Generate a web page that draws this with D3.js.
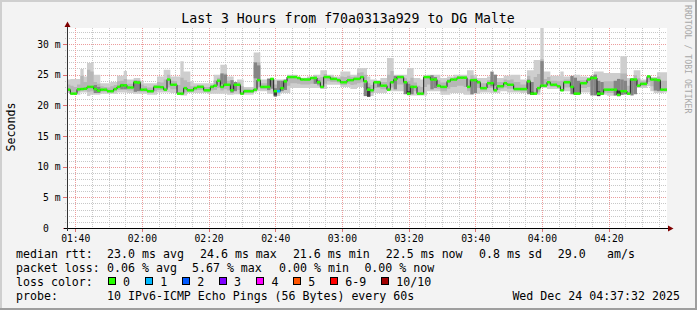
<!DOCTYPE html>
<html><head><meta charset="utf-8">
<script src="https://cdn.jsdelivr.net/npm/d3@7"></script>
<style>
html,body{margin:0;padding:0;background:#f3f3f3;}
svg{display:block;}
text{font-family:"DejaVu Sans Mono",monospace;fill:#000;white-space:pre;}
</style></head><body>
<svg id="c" width="697" height="310"></svg>
<script>
// ---------------- DATA ----------------
const title = "Last 3 Hours from f70a0313a929 to DG Malte";
const startTime = new Date(2025, 11, 24, 1, 37, 32);
const endTime = new Date(2025, 11, 24, 4, 37, 32);
const yMax = 32.6; // ms
const yTicks = [0, 5, 10, 15, 20, 25, 30];
const yTickLabels = ["0  ", "5 m", "10 m", "15 m", "20 m", "25 m", "30 m"];
const xTickLabels = ["01:40","02:00","02:20","02:40","03:00","03:20","03:40","04:00","04:20"];

// median rtt per minute (ms)
const median = [
22.55,21.9,21.9,22.6,22.65,22.7,23.0,23.0,22.65,22.4,
22.55,22.55,22.3,22.3,22.65,23.0,23.25,23.25,22.9,22.9,
23.75,23.7,22.55,22.55,22.3,22.3,23.0,23.0,22.95,22.55,
24.2,23.35,23.35,21.9,21.9,22.8,22.45,22.45,22.8,23.0,
23.0,22.45,22.45,23.0,23.2,24.0,23.0,23.35,23.35,22.45,
23.35,23.35,21.9,22.3,22.3,22.3,22.55,24.1,23.0,23.0,
23.0,24.3,22.3,22.3,22.8,23.9,24.6,24.6,24.6,24.45,
24.2,24.2,24.2,24.45,24.45,23.75,23.0,24.6,24.6,24.3,
24.3,24.1,23.75,23.75,24.1,24.1,24.3,24.3,24.6,23.9,
22.55,22.45,23.75,23.75,23.2,23.2,22.55,23.75,24.2,24.6,
24.6,23.75,21.9,23.0,23.0,21.9,21.9,24.6,24.6,24.2,
24.2,23.2,23.0,23.0,23.9,24.2,24.2,24.5,24.5,24.5,
23.0,24.1,24.1,23.75,22.8,22.8,23.6,23.6,22.45,23.1,
23.1,23.6,23.35,23.35,22.65,22.65,22.65,22.65,23.9,21.9,
21.9,22.8,23.2,23.2,23.75,23.35,23.35,23.1,22.45,23.75,
23.75,23.0,21.9,21.9,23.6,23.6,24.2,24.45,24.45,21.9,
21.9,22.55,22.55,22.55,22.55,21.7,22.3,22.3,21.9,24.2,
24.2,23.2,23.5,23.5,24.7,24.2,24.2,24.1,22.55,22.55];

// outer smoke (fastest / slowest ping)
const smokeHi = [
24.2,24.3,24.3,24.3,25.9,24.7,26.9,26.9,25.0,25.0,
23.6,23.6,23.6,23.8,23.8,24.8,24.8,25.6,24.2,24.2,
24.45,24.45,24.0,23.6,23.6,23.6,23.6,24.7,24.7,25.8,
25.8,24.7,24.7,24.7,27.2,25.5,25.5,23.9,23.6,23.6,
23.6,23.6,23.6,23.6,25.0,25.0,26.6,26.6,24.7,24.7,
23.6,24.2,24.2,23.0,23.0,23.0,28.6,28.6,24.2,24.2,
24.45,24.45,24.2,24.2,24.2,24.2,25.0,25.0,25.0,24.7,
24.5,24.5,24.7,24.7,25.0,25.0,25.7,25.7,25.0,25.0,
24.7,24.7,25.5,25.5,25.5,25.0,25.0,26.1,26.1,26.1,
24.7,24.2,24.2,24.0,24.45,24.45,27.7,27.7,25.0,25.0,
25.0,25.0,26.1,26.1,24.45,24.45,24.2,24.9,25.0,25.0,
25.0,25.0,24.45,24.45,24.7,24.7,25.0,25.0,25.0,25.0,
25.7,25.7,25.0,24.45,24.45,24.45,24.7,24.7,24.7,24.45,
24.45,24.8,24.8,25.0,25.0,25.0,24.2,24.2,25.7,25.7,
27.4,27.4,32.6,25.5,25.5,24.8,24.8,24.8,25.5,24.7,
24.7,24.7,25.0,25.0,24.7,24.7,24.6,24.7,25.5,25.5,
25.5,25.26,25.26,25.26,25.26,25.26,28.0,28.0,24.45,24.45,
25.7,25.7,24.2,24.2,24.9,24.6,24.6,25.4,25.4,25.4];
const smokeLo = [
22.0,21.7,21.7,21.7,22.1,22.1,21.5,21.7,21.7,21.7,
21.9,21.9,21.9,21.9,21.9,22.1,22.1,22.1,22.0,22.0,
21.9,21.9,21.9,21.9,21.7,21.7,21.7,22.1,22.1,22.1,
22.1,22.0,22.0,21.7,21.6,21.6,22.0,22.0,22.0,22.0,
22.0,22.0,21.9,21.9,21.9,21.9,21.9,21.9,21.7,21.7,
21.8,21.8,21.7,21.7,21.7,21.7,22.1,22.27,22.27,22.27,
21.9,21.9,21.5,21.5,22.0,22.0,22.0,22.8,22.8,22.8,
22.8,22.8,22.8,22.8,22.8,22.8,22.65,22.65,23.36,23.36,
23.36,23.36,23.0,23.0,23.0,22.65,22.65,23.0,23.0,23.0,
21.5,21.5,22.0,22.0,22.0,22.0,22.27,22.27,22.27,22.27,
22.27,22.27,21.6,21.6,21.6,21.6,21.6,21.6,22.27,22.27,
22.27,22.27,21.7,21.7,21.7,22.0,22.0,22.0,22.0,21.7,
21.7,21.7,21.9,21.9,22.1,22.1,22.1,22.0,22.0,22.0,
22.27,22.27,22.1,22.1,22.1,22.1,22.0,22.0,22.1,21.7,
21.7,21.7,22.8,22.8,22.65,22.65,22.65,22.65,22.27,22.27,
22.27,22.27,21.7,21.7,22.1,22.1,22.1,22.1,21.7,21.7,
21.7,21.7,21.57,21.57,21.57,21.5,21.7,21.7,21.7,21.9,
21.9,22.8,22.8,22.8,23.1,22.3,22.0,22.0,22.0,22.1];

// second pair of pings (2nd fastest / 2nd slowest)
const midHi = [
23.4,23.2,23.0,23.4,24.8,23.8,25.8,25.5,23.8,23.5,
23.1,23.0,22.9,23.1,23.3,23.9,24.0,24.3,23.5,23.5,
24.1,24.1,23.4,23.1,22.9,22.9,23.3,23.8,23.7,24.2,
25.0,24.0,23.9,23.3,24.5,24.1,23.8,23.1,23.2,23.3,
23.3,23.0,23.0,23.3,24.1,24.5,25.0,25.2,24.0,23.6,
23.5,23.8,23.1,22.7,22.7,22.6,26.5,27.0,23.6,23.6,
23.8,24.4,23.4,23.3,23.6,24.1,24.8,24.8,24.8,24.6,
24.4,24.4,24.5,24.6,24.8,24.5,24.6,25.1,24.8,24.7,
24.5,24.4,24.7,24.6,24.8,24.6,24.7,25.3,25.4,25.0,
23.6,23.3,24.0,23.9,23.8,23.8,25.0,25.6,24.6,24.8,
24.8,24.4,24.0,24.5,23.7,23.2,23.0,24.75,24.8,24.6,
24.6,24.1,23.7,23.7,24.3,24.45,24.6,24.75,24.75,24.75,
24.3,24.9,24.5,24.1,23.6,23.6,24.1,24.1,23.6,23.8,
23.8,24.2,24.1,24.2,23.8,23.8,23.4,23.4,24.8,23.8,
24.6,25.1,27.5,24.3,24.6,24.0,24.0,23.9,24.0,24.2,
24.2,23.8,23.4,23.4,24.1,24.1,24.4,24.6,25.0,23.7,
23.7,23.9,23.9,23.9,23.9,23.5,25.2,25.2,23.2,24.35,
24.9,24.4,23.9,23.9,24.8,24.4,24.4,24.7,24.0,24.0];
const midLo = [
22.3,21.8,21.8,22.2,22.4,22.4,22.2,22.3,22.2,22.0,
22.2,22.2,22.1,22.1,22.3,22.5,22.6,22.6,22.4,22.4,
22.7,22.7,22.2,22.2,22.0,22.0,22.3,22.5,22.5,22.3,
22.9,22.6,22.6,21.8,21.75,22.1,22.2,22.2,22.4,22.5,
22.5,22.2,22.1,22.4,22.5,22.8,22.4,22.6,22.4,22.0,
22.5,22.5,21.8,22.0,22.0,22.0,22.3,22.9,22.6,22.6,
22.4,22.9,21.8,21.9,22.4,22.8,23.2,23.6,23.6,23.5,
23.4,23.4,23.4,23.5,23.5,23.2,22.8,23.5,23.9,23.8,
23.8,23.7,23.3,23.3,23.5,23.3,23.4,23.6,23.7,23.4,
22.0,22.0,22.8,22.8,22.6,22.6,22.4,22.9,23.2,23.4,
23.4,23.0,21.75,22.3,22.3,21.75,21.75,23.0,23.4,23.2,
23.2,22.7,22.3,22.3,22.7,23.0,23.0,23.2,23.2,23.0,
22.3,22.8,22.9,22.8,22.4,22.4,22.8,22.8,22.2,22.5,
22.7,22.9,22.7,22.7,22.4,22.4,22.3,22.3,22.9,21.8,
21.8,22.2,23.0,23.0,23.2,23.0,23.0,22.9,22.35,22.9,
22.9,22.6,21.8,21.8,22.8,22.8,23.0,23.2,23.0,21.8,
21.8,22.1,22.0,22.0,22.0,21.6,22.0,22.0,21.8,22.9,
22.9,23.0,23.1,23.1,23.8,23.1,22.9,22.8,22.3,22.3];

// inner (darker) ping spread where visible
const darkMinute = [8,9,16,17,20,21,46,47,49,50,56,57,60,61,62,63,64,65,74,75,89,90,93,98,101,102,103,109,110,121,122,127,128,138,139,142,151,152,153,157,158,159,160,164,165,166,167,169,170,176,177];
const darkLow = [22.0,22.0,22.6,22.6,22.2,22.3,23.4,23.4,22.1,22.3,24.4,24.2,22.5,22.7,21.4,22.2,22.3,22.5,23.5,23.4,21.5,21.4,23.0,22.6,21.8,21.7,21.8,22.6,22.8,21.8,22.0,23.1,23.2,21.8,21.7,23.2,21.8,21.7,21.9,21.6,21.6,21.5,21.7,21.6,21.5,21.7,21.8,21.6,21.8,22.4,22.3];
const darkHigh = [23.3,23.0,23.5,23.4,24.0,23.9,25.2,25.0,24.1,23.8,27.0,26.5,24.3,24.3,22.8,24.0,24.0,24.2,24.3,24.1,23.6,23.0,24.0,24.8,23.7,23.5,23.2,24.9,24.6,24.1,24.0,25.5,25.0,24.2,23.8,27.2,24.8,24.5,24.0,24.8,25.0,24.0,23.8,24.0,24.3,24.2,24.0,24.4,24.3,24.2,24.1];
const coreMinute = [62, 90, 102, 139, 159, 165];
const coreLow = [21.6, 21.4, 21.7, 21.7, 21.5, 21.5];
const coreHigh = [22.5, 22.4, 22.3, 22.2, 22.3, 22.4];

// packet loss (pings lost out of 10) where non-zero
const lossMinute = [63];
const lossCount = [1];

const lossLabels = ["0","1","2","3","4","5","6-9","10/10"];
const lossColors = ["#26ff00","#00b8ff","#0059ff","#7e00ff","#ff00ff","#ff5500","#ff0000","#a10000"];

const rttLabel = "median rtt:";
const rttItems = ["23.0 ms avg","24.6 ms max","21.6 ms min","22.5 ms now","0.8 ms sd","29.0","am/s"];
const lossLabel = "packet loss:";
const lossItems = ["0.06 % avg","5.67 % max","0.00 % min","0.00 % now"];
const colorLabel = "loss color:";
const probeLabel = "probe:";
const probeText = "10 IPv6-ICMP Echo Pings (56 Bytes) every 60s";
const stampText = "Wed Dec 24 04:37:32 2025";
const watermark = "RRDTOOL / TOBI OETIKER";
const yAxisTitle = "Seconds";

// ---------------- DRAW ----------------
const svg = d3.select("#c");
const W = 697, H = 310;
const PL = 67, PR = 667, PT = 28, PB = 228;

svg.append("rect").attr("width", W).attr("height", H).attr("fill", "#f3f3f3");
svg.append("rect").attr("x",0).attr("y",0).attr("width",W).attr("height",2).attr("fill","#cfcfcf");
svg.append("rect").attr("x",0).attr("y",0).attr("width",2).attr("height",H).attr("fill","#cfcfcf");
svg.append("rect").attr("x",W-2).attr("y",0).attr("width",2).attr("height",H).attr("fill","#9e9e9e");
svg.append("rect").attr("x",0).attr("y",H-2).attr("width",W).attr("height",2).attr("fill","#9e9e9e");

const x = d3.scaleTime().domain([startTime, endTime]).range([PL, PR]);
const y = d3.scaleLinear().domain([0, yMax]).range([PB, PT]);
const tAt = m => new Date(startTime.getTime() + m * 60000);

svg.append("rect").attr("x", PL).attr("y", PT).attr("width", PR - PL).attr("height", PB - PT).attr("fill", "#ffffff");

// grid
const g = svg.append("g");
const minorX = d3.timeMinute.every(5).range(startTime, endTime);
const majorX = d3.timeMinute.every(20).range(startTime, endTime);
const minorY = d3.range(1, Math.floor(yMax) + 1);
g.selectAll(".mgx").data(minorX).join("line")
  .attr("x1", d => Math.round(x(d)) + 0.5).attr("x2", d => Math.round(x(d)) + 0.5)
  .attr("y1", PT).attr("y2", PB + 2)
  .attr("stroke", "#c8c8c8").attr("stroke-dasharray", "1,1");
g.selectAll(".mgy").data(minorY).join("line")
  .attr("x1", PL - 2).attr("x2", PR)
  .attr("y1", d => Math.round(y(d)) + 0.5).attr("y2", d => Math.round(y(d)) + 0.5)
  .attr("stroke", "#c8c8c8").attr("stroke-dasharray", "1,1");
g.selectAll(".Mgx").data(majorX).join("line")
  .attr("x1", d => Math.round(x(d)) + 0.5).attr("x2", d => Math.round(x(d)) + 0.5)
  .attr("y1", PT).attr("y2", PB)
  .attr("stroke", "#ec9c9c").attr("stroke-dasharray", "1,1");
g.selectAll(".Mgxt").data(majorX).join("line")
  .attr("x1", d => Math.round(x(d)) + 0.5).attr("x2", d => Math.round(x(d)) + 0.5)
  .attr("y1", PB).attr("y2", PB + 4)
  .attr("stroke", "#e07070");
g.selectAll(".Mgy").data(yTicks.filter(v => v > 0)).join("line")
  .attr("x1", PL).attr("x2", PR)
  .attr("y1", d => Math.round(y(d)) + 0.5).attr("y2", d => Math.round(y(d)) + 0.5)
  .attr("stroke", "#ec9c9c").attr("stroke-dasharray", "1,1");
g.selectAll(".Mgyt").data(yTicks).join("line")
  .attr("x1", PL - 4).attr("x2", PL)
  .attr("y1", d => Math.round(y(d)) + 0.5).attr("y2", d => Math.round(y(d)) + 0.5)
  .attr("stroke", "#e07070");

// smoke
const idx = d3.range(median.length + 1);
const band = (lo, hi) => d3.area()
  .x(i => x(tAt(i)))
  .y0(i => y(lo[Math.min(i, lo.length - 1)]))
  .y1(i => y(hi[Math.min(i, hi.length - 1)]))
  .curve(d3.curveStepAfter);
svg.append("path").attr("d", band(smokeLo, smokeHi)(idx)).attr("fill", "#cecece");
svg.append("path").attr("d", band(midLo, midHi)(idx)).attr("fill", "#b6b6b6");
svg.selectAll(".dk").data(darkMinute).join("rect")
  .attr("x", d => x(tAt(d))).attr("width", d => x(tAt(d + 1)) - x(tAt(d)))
  .attr("y", (d, i) => y(darkHigh[i])).attr("height", (d, i) => y(darkLow[i]) - y(darkHigh[i]))
  .attr("fill", "#858585");
svg.selectAll(".cr").data(coreMinute).join("rect")
  .attr("x", d => x(tAt(d))).attr("width", d => x(tAt(d + 1)) - x(tAt(d)))
  .attr("y", (d, i) => y(coreHigh[i])).attr("height", (d, i) => y(coreLow[i]) - y(coreHigh[i]))
  .attr("fill", "#3c3c3c");

// median
const medLine = d3.line().x(i => x(tAt(i))).y(i => y(median[Math.min(i, median.length - 1)])).curve(d3.curveStepAfter);
svg.append("path").attr("d", medLine(idx)).attr("fill", "none").attr("stroke", "#202020").attr("stroke-width", 1);
const lossOf = m => { const k = lossMinute.indexOf(m); return k < 0 ? 0 : lossCount[k]; };
const lossColorOf = n => n === 0 ? lossColors[0] : n <= 5 ? lossColors[n] : n < 10 ? lossColors[6] : lossColors[7];
svg.selectAll(".md").data(median).join("rect")
  .attr("x", (d, i) => x(tAt(i))).attr("width", (d, i) => x(tAt(i + 1)) - x(tAt(i)))
  .attr("y", d => y(d) - 1.25).attr("height", 2.5)
  .attr("fill", (d, i) => lossColorOf(lossOf(i)));

// axes
svg.append("line").attr("x1", PL - 3).attr("x2", PR + 2).attr("y1", PB + 0.5).attr("y2", PB + 0.5).attr("stroke", "#000");
svg.append("line").attr("x1", PL + 0.5).attr("x2", PL + 0.5).attr("y1", PB + 3).attr("y2", PT - 2).attr("stroke", "#333");
svg.append("path").attr("d", `M${PR+1},${PB-2.5}L${PR+1},${PB+3.5}L${PR+6.5},${PB+0.5}Z`).attr("fill", "#7f0000");
svg.append("path").attr("d", `M${PL-2.5},${PT-1}L${PL+3.5},${PT-1}L${PL+0.5},${PT-6.5}Z`).attr("fill", "#7f0000");

// tick labels
svg.selectAll(".xl").data(majorX).join("text")
  .attr("x", d => x(d) + 0.5).attr("y", 241.5).attr("text-anchor", "middle")
  .style("font-size", "9.7px").text((d, i) => xTickLabels[i]);
svg.selectAll(".yl").data(yTicks).join("text")
  .attr("x", 60.5).attr("y", d => y(d) + 3.6).attr("text-anchor", "end")
  .style("font-size", "9.7px").text((d, i) => yTickLabels[i]);

// title & labels
svg.append("text").attr("x", 348).attr("y", 22.5).attr("text-anchor", "middle").style("font-size", "13.2px").text(title);
svg.append("text").attr("transform", "translate(15,127) rotate(-90)").attr("text-anchor", "middle").style("font-size", "11.6px").text(yAxisTitle);
svg.append("text").attr("transform", "translate(685,5) rotate(90)").style("font-size", "8.2px").style("fill", "#a8a8a8").text(watermark);

// legend
const LF = "11.6px";
const rowY = [258, 272, 286, 300];
const addT = (tx, ty, s) => svg.append("text").attr("x", tx).attr("y", ty).style("font-size", LF).text(s);
addT(16, rowY[0], rttLabel);
const rttX = [107.1, 200, 292.9, 385.8, 479.1, 557.8, 607.1];
rttItems.forEach((s, i) => addT(rttX[i], rowY[0], s));
addT(16, rowY[1], lossLabel);
const lossX = [107.1, 192, 279.1, 364.4];
lossItems.forEach((s, i) => addT(lossX[i], rowY[1], s));
addT(16, rowY[2], colorLabel);
const boxX = [108, 145.3, 182.2, 219.1, 256.4, 293.3, 330.2, 381.3];
lossLabels.forEach((s, i) => {
  svg.append("rect").attr("x", Math.round(boxX[i]) + 0.5).attr("y", 277.5).attr("width", 7).attr("height", 7)
    .attr("fill", lossColors[i]).attr("stroke", "#000").attr("stroke-width", 1);
  addT(boxX[i] + 15, rowY[2], s);
});
addT(16, rowY[3], probeLabel);
addT(107.1, rowY[3], probeText);
addT(512.4, rowY[3], stampText);
</script>
</body></html>
